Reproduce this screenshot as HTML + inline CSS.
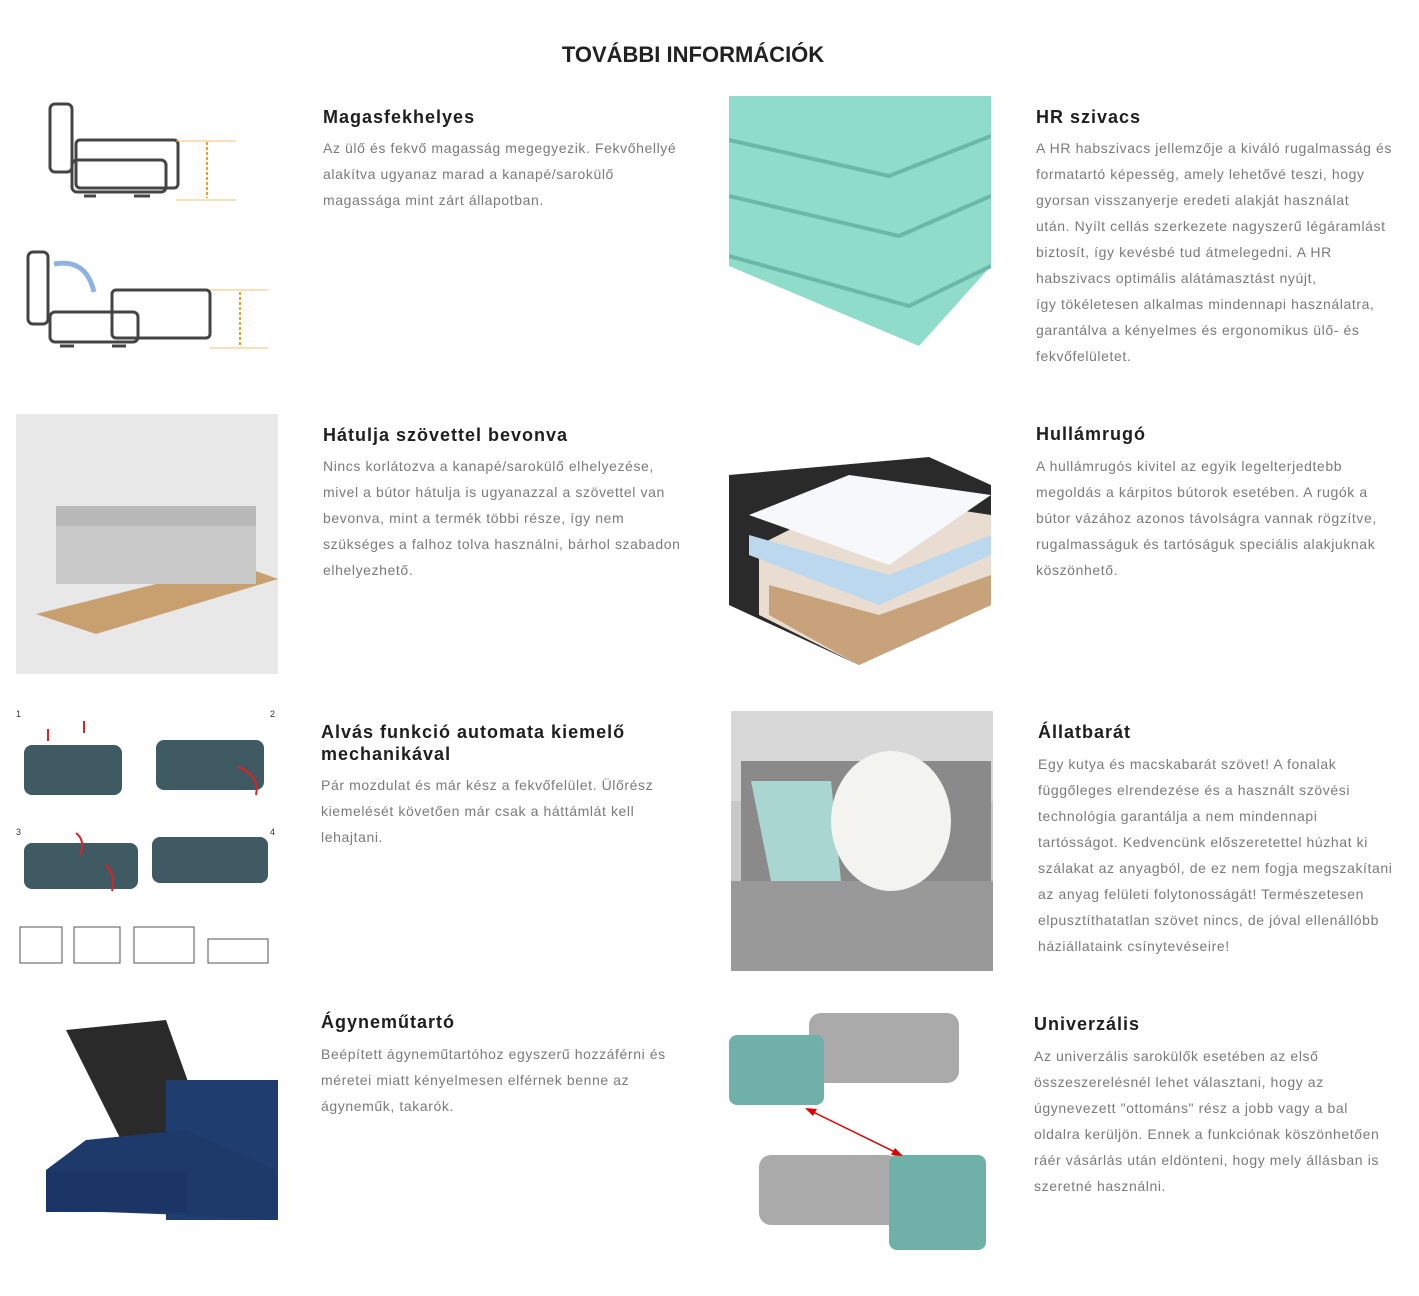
<!DOCTYPE html>
<html><head><meta charset="utf-8"><style>
body{margin:0;width:1419px;height:1296px;background:#fff;position:relative;font-family:"Liberation Sans",sans-serif;overflow:hidden}
.a{position:absolute}
h1{position:absolute;left:0;width:1386px;top:42px;margin:0;text-align:center;font-size:22px;font-weight:bold;color:#222}
.h{position:absolute;font-size:18px;font-weight:bold;color:#1e1e1e;margin:0;line-height:22px;letter-spacing:1px}
.p{position:absolute;font-size:14px;color:#7a7a7a;line-height:26px;margin:0;letter-spacing:0.6px;white-space:nowrap}
</style></head><body>
<h1>TOVÁBBI INFORMÁCIÓK</h1>

<svg class="a" style="left:16px;top:96px" width="262" height="260">
<g fill="none" stroke="#444" stroke-width="3">
<rect x="34" y="8" width="22" height="68" rx="5"/><rect x="60" y="44" width="102" height="48" rx="4"/><rect x="56" y="64" width="94" height="32" rx="5"/>
<rect x="12" y="156" width="20" height="72" rx="5"/><rect x="96" y="194" width="98" height="48" rx="4"/><rect x="34" y="216" width="88" height="30" rx="5"/>
</g>
<g stroke="#444" stroke-width="3"><line x1="68" y1="100" x2="80" y2="100"/><line x1="118" y1="100" x2="134" y2="100"/><line x1="44" y1="250" x2="58" y2="250"/><line x1="96" y1="250" x2="110" y2="250"/></g>
<path d="M38 168 Q70 162 78 196" stroke="#8fb3e0" stroke-width="5" fill="none"/>
<g stroke="#f0a020" stroke-width="2" stroke-dasharray="3 2"><line x1="191" y1="46" x2="191" y2="102"/><line x1="224" y1="196" x2="224" y2="250"/></g>
<g stroke="#f5c070" stroke-width="1"><line x1="160" y1="45" x2="220" y2="45"/><line x1="160" y1="104" x2="220" y2="104"/><line x1="194" y1="194" x2="252" y2="194"/><line x1="194" y1="252" x2="252" y2="252"/></g>
</svg>
<p class="h" style="left:323px;top:106px">Magasfekhelyes</p>
<p class="p" style="left:323px;top:135px">Az ülő és fekvő magasság megegyezik. Fekvőhellyé<br>alakítva ugyanaz marad a kanapé/sarokülő<br>magassága mint zárt állapotban.</p>

<svg class="a" style="left:729px;top:96px" width="262" height="256">
<polygon points="0,0 262,0 262,170 190,250 0,170" fill="#8fdccb"/>
<g stroke="#6bb8a8" stroke-width="4" fill="none"><path d="M0 44 L160 80 L262 40"/><path d="M0 100 L170 140 L262 100"/><path d="M0 160 L180 210 L262 170"/></g>
</svg>
<p class="h" style="left:1036px;top:106px">HR szivacs</p>
<p class="p" style="left:1036px;top:135px">A HR habszivacs jellemzője a kiváló rugalmasság és<br>formatartó képesség, amely lehetővé teszi, hogy<br>gyorsan visszanyerje eredeti alakját használat<br>után. Nyílt cellás szerkezete nagyszerű légáramlást<br>biztosít, így kevésbé tud átmelegedni. A HR<br>habszivacs optimális alátámasztást nyújt,<br>így tökéletesen alkalmas mindennapi használatra,<br>garantálva a kényelmes és ergonomikus ülő- és<br>fekvőfelületet.</p>

<div class="a" style="left:16px;top:414px;width:262px;height:260px;background:#e8e8e8"></div>
<svg class="a" style="left:16px;top:414px" width="262" height="260">
<polygon points="20,200 220,150 262,165 80,220" fill="#c8a070"/>
<rect x="40" y="100" width="200" height="70" fill="#c9c9c9"/>
<rect x="40" y="92" width="200" height="20" fill="#b9b9b9"/>
</svg>
<p class="h" style="left:323px;top:424px">Hátulja szövettel bevonva</p>
<p class="p" style="left:323px;top:453px">Nincs korlátozva a kanapé/sarokülő elhelyezése,<br>mivel a bútor hátulja is ugyanazzal a szövettel van<br>bevonva, mint a termék többi része, így nem<br>szükséges a falhoz tolva használni, bárhol szabadon<br>elhelyezhető.</p>

<svg class="a" style="left:729px;top:455px" width="262" height="212">
<polygon points="0,20 200,2 262,30 262,150 130,210 0,150" fill="#2a2a2a"/>
<polygon points="30,90 130,40 262,60 262,150 130,210 30,160" fill="#e8ddd0"/>
<polygon points="20,60 120,20 262,40 160,110" fill="#f6f8fb"/>
<polygon points="20,80 160,120 262,80 262,100 150,150 20,100" fill="#bcd8ee"/>
<polygon points="40,130 150,160 262,120 262,150 130,210 40,160" fill="#c8a27a"/>
</svg>
<p class="h" style="left:1036px;top:423px">Hullámrugó</p>
<p class="p" style="left:1036px;top:453px">A hullámrugós kivitel az egyik legelterjedtebb<br>megoldás a kárpitos bútorok esetében. A rugók a<br>bútor vázához azonos távolságra vannak rögzítve,<br>rugalmasságuk és tartóságuk speciális alakjuknak<br>köszönhető.</p>

<svg class="a" style="left:16px;top:705px" width="262" height="265">
<g fill="#3f5a62"><rect x="8" y="40" width="98" height="50" rx="8"/><rect x="140" y="35" width="108" height="50" rx="8"/><rect x="8" y="138" width="114" height="46" rx="8"/><rect x="136" y="132" width="116" height="46" rx="8"/></g>
<g stroke="#d22" stroke-width="2" fill="none"><line x1="32" y1="36" x2="32" y2="24"/><line x1="68" y1="28" x2="68" y2="16"/><path d="M222 62 Q244 70 240 90"/><path d="M60 128 Q70 136 64 150"/><path d="M90 160 Q100 170 96 186"/></g>
<text x="0" y="12" font-size="9" fill="#333">1</text><text x="254" y="12" font-size="9" fill="#333">2</text><text x="0" y="130" font-size="9" fill="#333">3</text><text x="254" y="130" font-size="9" fill="#333">4</text>
<g fill="none" stroke="#555"><rect x="4" y="222" width="42" height="36"/><rect x="58" y="222" width="46" height="36"/><rect x="118" y="222" width="60" height="36"/><rect x="192" y="234" width="60" height="24"/></g>
</svg>
<p class="h" style="left:321px;top:721px">Alvás funkció automata kiemelő<br>mechanikával</p>
<p class="p" style="left:321px;top:772px">Pár mozdulat és már kész a fekvőfelület. Ülőrész<br>kiemelését követően már csak a háttámlát kell<br>lehajtani.</p>

<div class="a" style="left:731px;top:711px;width:262px;height:260px;background:#c8c8c8"></div>
<svg class="a" style="left:731px;top:711px" width="262" height="260">
<rect width="262" height="90" fill="#d8d8d8"/>
<rect x="10" y="50" width="250" height="210" fill="#8a8a8a"/>
<rect x="0" y="170" width="262" height="90" fill="#999"/>
<polygon points="20,70 100,70 110,170 40,170" fill="#a9d6d0"/>
<ellipse cx="160" cy="110" rx="60" ry="70" fill="#f3f3f0"/>
</svg>
<p class="h" style="left:1038px;top:721px">Állatbarát</p>
<p class="p" style="left:1038px;top:751px">Egy kutya és macskabarát szövet! A fonalak<br>függőleges elrendezése és a használt szövési<br>technológia garantálja a nem mindennapi<br>tartósságot. Kedvencünk előszeretettel húzhat ki<br>szálakat az anyagból, de ez nem fogja megszakítani<br>az anyag felületi folytonosságát! Természetesen<br>elpusztíthatatlan szövet nincs, de jóval ellenállóbb<br>háziállataink csínytevéseire!</p>

<svg class="a" style="left:16px;top:1020px" width="262" height="212">
<polygon points="50,10 150,0 200,140 120,150" fill="#2a2a2a"/>
<rect x="150" y="60" width="112" height="140" fill="#1f3d6e"/>
<polygon points="70,120 170,110 260,150 260,200 170,195 30,190 30,150" fill="#1d3a6a"/>
<rect x="30" y="150" width="140" height="42" fill="#1a3566"/>
</svg>
<p class="h" style="left:321px;top:1011px">Ágyneműtartó</p>
<p class="p" style="left:321px;top:1041px">Beépített ágyneműtartóhoz egyszerű hozzáférni és<br>méretei miatt kényelmesen elférnek benne az<br>ágyneműk, takarók.</p>

<svg class="a" style="left:729px;top:1005px" width="262" height="255">
<rect x="80" y="8" width="150" height="70" rx="12" fill="#aaa"/>
<rect x="0" y="30" width="95" height="70" rx="8" fill="#6fb0a8"/>
<rect x="30" y="150" width="140" height="70" rx="12" fill="#aaa"/>
<rect x="160" y="150" width="97" height="95" rx="8" fill="#6fb0a8"/>
<line x1="78" y1="104" x2="172" y2="150" stroke="#d00" stroke-width="1.5"/>
<polygon points="76,103 88,104 84,111" fill="#d00"/><polygon points="174,151 162,150 166,143" fill="#d00"/>
</svg>
<p class="h" style="left:1034px;top:1013px">Univerzális</p>
<p class="p" style="left:1034px;top:1043px">Az univerzális sarokülők esetében az első<br>összeszerelésnél lehet választani, hogy az<br>úgynevezett "ottománs" rész a jobb vagy a bal<br>oldalra kerüljön. Ennek a funkciónak köszönhetően<br>ráér vásárlás után eldönteni, hogy mely állásban is<br>szeretné használni.</p>
</body></html>
